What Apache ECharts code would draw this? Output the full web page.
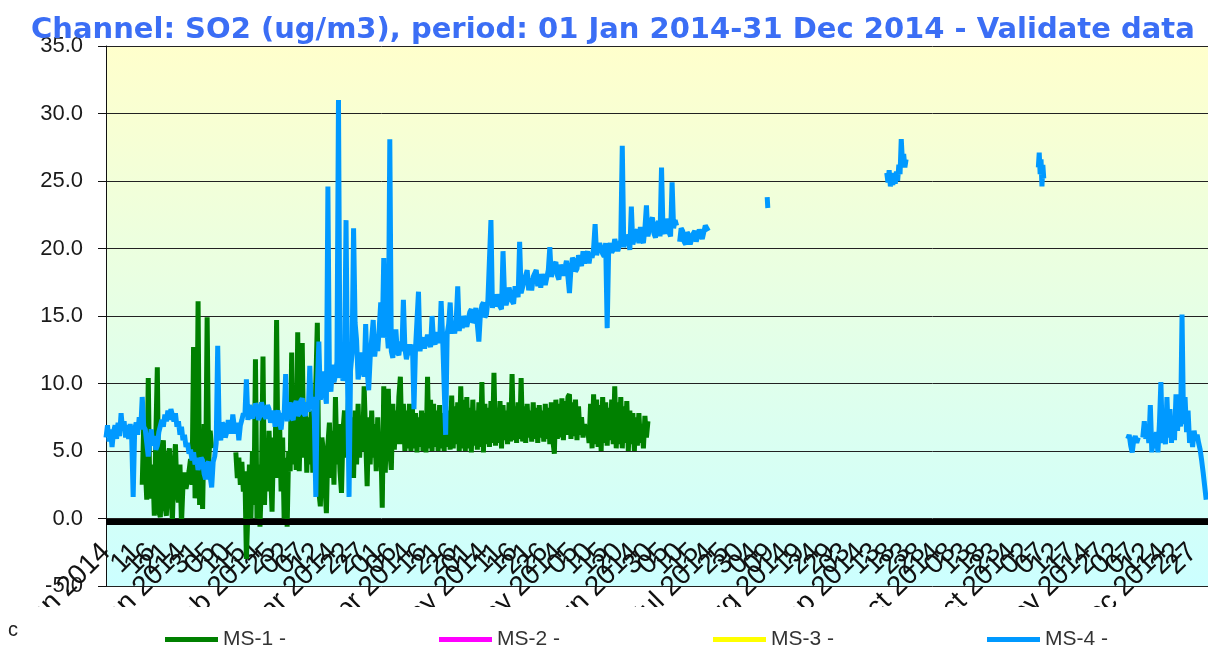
<!DOCTYPE html>
<html>
<head>
<meta charset="utf-8">
<title>SO2 2014</title>
<script src="https://cdn.jsdelivr.net/npm/echarts@6/dist/echarts.min.js"></script>
<style>
html, body { margin: 0; padding: 0; background: #fff; }
#chart { width: 1208px; height: 648px; }
</style>
</head>
<body>
<div id="chart"></div>
<script>
// days are counted from 01 Jan 2014 00:00, one reading every half day
var MONTHS = ['Jan', 'Feb', 'Mar', 'Apr', 'May', 'Jun', 'Jul', 'Aug', 'Sep', 'Oct', 'Nov', 'Dec'];
var seriesNames = ['MS-1 -', 'MS-2 -', 'MS-3 -', 'MS-4 -'];
var seriesColors = ['#008000', '#ff00ff', '#ffff00', '#0099ff'];

// MS-1 from day 12, null = no data
var ms1Start = 12;
var ms1Values = [
    2.5, 7.0, 3.9, 1.4, 10.4, 2.0, 1.5, 4.0, 0.2, 6.0,
    11.2, 0.5, 0.1, 3.5, 5.8, 1.0, 0.2, 4.5, 5.2, 1.5,
    -0.1, 3.8, 5.5, 2.0, 1.2, 4.0, -0.4, 2.5, 3.4, 2.2,
    2.1, 3.5, 4.4, 2.5, 12.7, 1.5, 3.0, 16.1, 1.0, 5.0,
    0.7, 7.0, 3.0, 14.9, 4.0, 6.5, 5.2, null, null, null,
    null, null, null, null, null, null, null, null, null, null,
    null, null, 4.9, 3.0, 4.5, 2.5, 4.2, 2.0, 3.5, -3.0,
    0.5, 4.0, 0.0, 5.0, 1.0, 11.8, 0.0, 4.0, -0.6, 3.0,
    12.0, 1.0, 5.5, 2.0, 6.5, 3.5, 0.5, 6.0, 3.0, 14.7,
    3.0, 7.1, 2.0, 6.0, 0.0, 4.5, -0.6, 5.0, 3.5, 12.3,
    4.0, 7.5, 3.6, 13.8, 3.5, 8.0, 13.0, 4.5, 8.6, 3.4,
    7.5, 4.0, 8.0, 3.4, 6.0, 10.0, 14.5, 2.0, 0.9, 6.0,
    5.0, 2.5, 0.4, 5.5, 7.1, 3.0, 6.5, 2.5, 9.0, 4.0,
    7.0, 3.5, 1.9, 6.5, 8.0, 4.5, 7.0, 10.0, 4.0, 7.5,
    3.0, 8.0, 4.0, 8.5, 4.5, 7.0, 5.0, 9.8, 6.0, 2.4,
    7.5, 4.0, 8.0, 4.5, 7.0, 3.5, 7.5, 4.0, 6.0, 0.8,
    9.8, 3.4, 8.0, 9.6, 5.0, 3.6, 8.5, 5.1, 8.0, 5.5,
    9.0, 10.5, 5.5, 8.5, 5.0, 8.0, 5.2, 8.5, 5.0, 8.1,
    5.2, 7.8, 4.9, 7.5, 5.3, 8.0, 5.0, 7.8, 4.9, 10.5,
    5.2, 8.8, 5.0, 8.5, 5.3, 8.0, 5.0, 8.4, 5.2, 7.8,
    5.0, 8.3, 5.3, 8.0, 5.1, 9.1, 5.2, 8.3, 5.5, 8.6,
    5.0, 9.8, 5.2, 8.8, 5.0, 9.0, 5.2, 8.2, 4.9, 8.8,
    5.4, 8.0, 5.1, 8.6, 5.3, 10.1, 4.9, 8.5, 5.5, 8.2,
    5.3, 8.7, 5.6, 10.8, 5.4, 8.2, 5.6, 8.7, 5.2, 8.4,
    5.8, 8.0, 5.5, 8.6, 5.7, 10.7, 5.8, 8.3, 5.6, 8.6,
    5.9, 10.4, 5.7, 8.3, 5.6, 8.5, 6.0, 8.0, 5.7, 8.6,
    5.9, 8.2, 5.6, 8.4, 6.0, 8.0, 5.7, 8.5, 5.9, 8.2,
    5.5, 8.6, 5.8, 4.8, 8.8, 5.9, 8.5, 6.0, 8.9, 5.8,
    8.7, 6.2, 9.0, 9.2, 5.9, 8.6, 6.1, 8.8, 5.8, 8.3,
    6.2, 7.5, 6.0, 7.0, 6.2, 6.8, 5.6, 8.5, 5.2, 9.2,
    5.5, 8.8, 5.3, 8.4, 5.0, 9.0, 5.6, 8.6, 5.4, 8.2,
    5.8, 8.8, 5.5, 9.8, 5.2, 8.6, 5.5, 9.0, 5.2, 8.3,
    5.6, 8.7, 5.0, 8.0, 5.5, 7.8, 5.0, 7.5, 5.4, 7.8,
    5.6, 7.0, 5.2, 7.6, 6.0, 7.2
];

// MS-4 from 01 Jan to mid July
var ms4Start = 0;
var ms4Values = [
    6.0, 6.9, 5.7, 6.6, 5.3, 6.4, 6.9, 5.9, 7.1, 6.1,
    7.8, 6.6, 7.2, 6.0, 6.9, 5.9, 7.0, 6.1, 1.6, 6.6,
    7.1, 6.2, 7.5, 6.6, 9.0, 6.8, 6.6, 5.6, 4.6, 5.8,
    6.6, 5.4, 6.1, 5.1, 5.4, 6.4, 6.5, 7.3, 6.8, 7.7,
    7.2, 8.0, 7.3, 8.1, 8.1, 7.2, 7.8, 6.8, 7.2, 6.2,
    6.8, 5.8, 6.2, 5.3, 5.6, 4.8, 5.1, 4.3, 4.9, 4.0,
    4.5, 3.6, 3.6, 4.5, 4.3, 3.3, 2.9, 4.0, 4.2, 3.1,
    2.3, 4.2, 4.6, 5.6, 12.8, 6.4, 5.8, 7.1, 6.9, 6.0,
    6.4, 7.3, 7.2, 6.3, 7.7, 6.8, 6.3, 7.1, 5.8, 6.9,
    7.3, 7.8, 7.6, 10.3, 7.3, 8.4, 8.4, 7.4, 7.3, 8.5,
    8.3, 7.3, 7.6, 8.6, 8.6, 7.6, 7.4, 8.4, 8.1, 7.1,
    7.0, 8.0, 6.8, 7.7, 8.0, 7.1, 6.6, 7.8, 7.6, 10.7,
    7.2, 8.2, 8.6, 7.5, 7.3, 8.4, 8.7, 7.6, 7.8, 8.7,
    8.9, 7.8, 7.6, 8.6, 7.9, 11.3, 8.1, 9.0, 7.5, 1.6,
    9.6, 13.1, 8.8, 10.0, 10.9, 9.3, 8.5, 24.6, 10.3, 9.4,
    11.4, 10.1, 10.6, 11.6, 31.0, 10.4, 11.3, 10.2, 11.0, 22.1,
    10.4, 1.6, 11.0, 12.2, 21.5, 14.5, 13.2, 10.3, 11.0, 12.3,
    11.7, 10.5, 14.4, 11.0, 9.5, 11.9, 12.0, 14.7, 12.0, 13.2,
    12.4, 14.1, 16.0, 13.4, 19.3, 13.4, 14.1, 12.6, 28.1, 12.4,
    11.9, 13.3, 14.0, 12.3, 12.1, 13.1, 12.4, 16.2, 12.6, 11.8,
    11.7, 12.9, 12.1, 12.9, 8.1, 12.5, 12.5, 16.8, 12.4, 13.2,
    13.4, 12.6, 12.5, 13.6, 13.6, 12.7, 15.0, 13.1, 12.9, 13.8,
    13.9, 13.0, 16.1, 13.4, 13.3, 6.2, 13.7, 14.4, 16.0, 13.7,
    14.5, 13.7, 14.7, 17.2, 13.9, 14.8, 14.1, 15.0, 15.1, 14.2,
    14.3, 15.3, 15.5, 14.5, 14.7, 15.6, 15.6, 13.1, 15.1, 15.8,
    16.0, 14.9, 15.1, 16.2, 16.1, 22.1, 15.6, 16.4, 15.7, 16.6,
    16.6, 15.7, 15.5, 19.8, 16.5, 15.8, 16.2, 17.1, 17.0, 16.1,
    15.9, 17.2, 17.2, 16.4, 20.5, 16.7, 16.7, 17.6, 17.6, 18.4,
    16.9, 17.8, 16.9, 17.9, 17.8, 18.4, 17.2, 18.1, 17.1, 18.1,
    18.2, 17.3, 17.4, 18.4, 20.1, 17.9, 17.9, 18.8, 19.0, 18.0,
    17.7, 18.8, 18.8, 18.0, 18.1, 19.1, 19.2, 16.7, 18.5, 19.3,
    19.1, 18.3, 18.5, 19.5, 19.5, 18.7, 19.8, 18.9, 18.9, 19.8,
    18.9, 19.7, 19.3, 20.0, 21.8, 19.5, 19.5, 20.4, 20.5, 19.6,
    19.4, 20.4, 14.1, 20.0, 20.4, 19.7, 19.9, 20.7, 20.6, 19.8,
    19.7, 20.6, 27.6, 20.1, 20.1, 21.0, 20.8, 19.9, 23.1, 20.3,
    20.3, 21.2, 21.4, 20.4, 21.6, 20.7, 20.4, 21.5, 23.2, 20.9,
    20.9, 22.0, 22.3, 21.1, 20.8, 21.8, 22.0, 20.9, 26.0, 21.3,
    21.1, 22.2, 22.1, 21.2, 20.9, 24.9, 21.5, 22.1, 21.7, null,
    20.5, 21.5, 21.3, 20.5, 20.3, 21.2, 21.0, 20.3, 20.2, 21.1,
    21.3, 20.5, 20.5, 21.4, 21.5, 20.7, 20.8, 21.7, 21.5, 21.3
];

// MS-4, short runs later in the year (start day, step in days, values)
var ms4Aug = [219.0, 0.2, [23.8, 23.0]];
var ms4Sep = [258.6, 0.4, [25.6, 24.9, 25.8, 24.6, 25.3, 24.7, 25.6, 24.8, 25.7, 25.0, 26.2, 25.5, 28.1, 26.4, 27.0, 26.0, 26.6]];
var ms4Oct = [308.8, 0.3, [26.0, 27.1, 25.5, 26.6, 24.6, 26.2, 25.2]];
var ms4Dec1 = [338.4, 0.5, [5.9, 6.2, 5.4, 4.9, 5.8, 6.1, 5.6, 6.0]];
var ms4Dec2 = [343.4, 0.5, [
    6.0, 7.2, 5.9, 6.8, 5.6, 8.4, 4.9, 6.2, 5.2, 6.4,
    4.9, 7.0, 10.1, 5.6, 6.4, 5.5, 9.0, 6.0, 8.1, 5.6,
    7.5, 5.8, 9.2, 6.5, 8.5, 6.8, 15.1, 7.0, 9.0, 6.4,
    8.0, 5.6, 6.4, 5.3, 6.5, 5.8, 6.2, 5.6, 5.1, 4.3,
    3.4, 2.4, 1.4
]];

var zeroLine = -0.25;

function run(start, step, values) {
    var out = [];
    for (var i = 0; i < values.length; i++) {
        out.push([start + i * step, values[i]]);
    }
    return out;
}

function joinRuns(runs) {
    var out = [];
    runs.forEach(function (r, k) {
        if (k > 0) out.push([r[0] - 0.05, null]);   // break the line between runs
        out = out.concat(run(r[0], r[1], r[2]));
    });
    return out;
}

var ms1Data = run(ms1Start, 0.5, ms1Values);
var ms4Data = joinRuns([[ms4Start, 0.5, ms4Values], ms4Aug, ms4Sep, ms4Oct, ms4Dec1, ms4Dec2]);

function dayLabel(v) {
    var d = new Date(Date.UTC(2014, 0, 1) + v * 86400000);
    var dd = ('0' + d.getUTCDate()).slice(-2);
    if (v % 25 === 0) return dd + ' ' + MONTHS[d.getUTCMonth()] + ' ' + d.getUTCFullYear();
    return dd;
}

var myChart = echarts.init(document.getElementById('chart'));

function lineSeries(i, data) {
    return {
        name: seriesNames[i],
        type: 'line',
        data: data,
        showSymbol: false,
        connectNulls: false,
        animation: false,
        color: seriesColors[i],
        lineStyle: { width: 5, color: seriesColors[i] }
    };
}

var series = [
    lineSeries(0, ms1Data),
    lineSeries(1, []),
    lineSeries(2, []),
    lineSeries(3, ms4Data)
];
// thick black line just under zero, kept below the data lines
series[1].z = 1;
series[1].markLine = {
    silent: true,
    symbol: 'none',
    label: { show: false },
    lineStyle: { color: '#000', width: 6, type: 'solid' },
    data: [{ yAxis: zeroLine }]
};

var option = {
    backgroundColor: '#fff',
    animation: false,
    title: {
        text: 'Channel: SO2 (ug/m3), period: 01 Jan 2014-31 Dec 2014 - Validate data',
        left: 26,
        top: 11,
        textStyle: {
            fontFamily: 'DejaVu Sans',
            fontWeight: 'bold',
            fontSize: 29,
            color: '#3b6ef5'
        }
    },
    legend: {
        data: seriesNames,
        left: 160,
        top: 624,
        z: 10,
        icon: 'rect',
        itemWidth: 53,
        itemHeight: 5,
        itemGap: 153,
        textStyle: { fontFamily: 'Liberation Sans', fontSize: 21, color: '#333' }
    },
    grid: {
        left: 106,
        right: 0,
        top: 46,
        bottom: 62,
        containLabel: false,
        outerBoundsMode: 'none',
        show: true,
        borderWidth: 0,
        backgroundColor: {
            type: 'linear', x: 0, y: 0, x2: 0, y2: 1,
            colorStops: [{ offset: 0, color: '#ffffcc' }, { offset: 1, color: '#ccffff' }]
        }
    },
    xAxis: {
        type: 'value',
        min: 0,
        max: 365,
        interval: 5,
        axisLine: { show: false },
        axisTick: { show: false },
        splitLine: { show: false },
        axisLabel: {
            rotate: 45,
            margin: -38,
            showMinLabel: true,
            showMaxLabel: false,
            fontFamily: 'Liberation Sans',
            fontSize: 28,
            color: '#111',
            formatter: dayLabel
        }
    },
    yAxis: {
        type: 'value',
        min: -5,
        max: 35,
        interval: 5,
        axisLine: { show: true, lineStyle: { color: '#111', width: 1 } },
        axisTick: { show: true, length: 8, lineStyle: { color: '#111' } },
        splitLine: { show: true, lineStyle: { color: '#222', width: 1 } },
        axisLabel: {
            margin: 23,
            fontFamily: 'Liberation Sans',
            fontSize: 22,
            color: '#1a1a1a',
            formatter: function (v) { return v.toFixed(1); }
        }
    },
    graphic: [
        // the axis labels are cut off under the plot in the original
        { type: 'rect', left: 0, top: 607, z: 3, shape: { width: 1208, height: 41 }, style: { fill: '#fff' } },
        { type: 'text', left: 8, top: 620, z: 11, style: { text: 'c', font: '20px "Liberation Sans"', fill: '#222' } }
    ],
    series: series
};

myChart.setOption(option);
</script>
</body>
</html>
